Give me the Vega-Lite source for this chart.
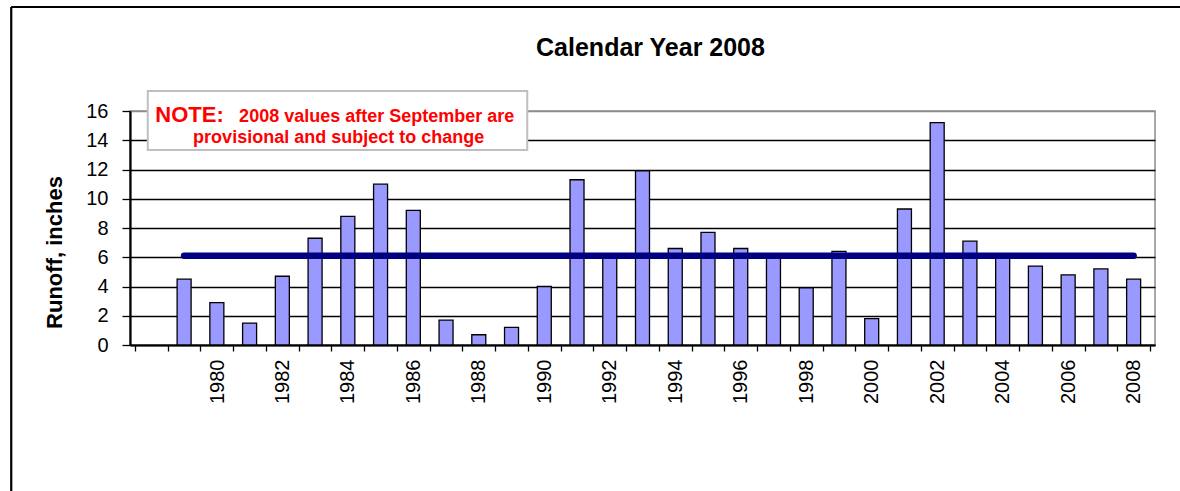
{
  "$schema": "https://vega.github.io/schema/vega-lite/v6.json",
  "width": 1025,
  "height": 234,
  "autosize": {"type": "none"},
  "padding": {"left": 130, "top": 111, "right": 25, "bottom": 146},
  "background": "white",
  "config": {
    "font": "Liberation Sans",
    "view": {"stroke": "#8c8c8c", "strokeWidth": 1.5},
    "axis": {
      "labelFont": "Liberation Sans",
      "labelFontSize": 20,
      "labelColor": "black",
      "labelOverlap": false,
      "labelFlush": false,
      "labelBound": false,
      "tickColor": "black",
      "tickWidth": 1.3,
      "domainColor": "black",
      "domainWidth": 2.2
    },
    "axisY": {
      "labelPadding": 14,
      "tickSize": 8,
      "grid": true,
      "gridColor": "black",
      "gridWidth": 1.3
    },
    "axisX": {
      "labelPadding": 8,
      "tickSize": 6,
      "grid": false
    }
  },
  "title": {
    "text": "Calendar Year 2008",
    "font": "Liberation Sans",
    "fontSize": 25,
    "fontWeight": "bold",
    "color": "black",
    "anchor": "middle",
    "dx": 8,
    "offset": -55
  },
  "data": {
    "values": [
      {"year": 1979, "runoff": 4.5},
      {"year": 1980, "runoff": 2.9},
      {"year": 1981, "runoff": 1.5},
      {"year": 1982, "runoff": 4.7},
      {"year": 1983, "runoff": 7.3},
      {"year": 1984, "runoff": 8.8},
      {"year": 1985, "runoff": 11.0},
      {"year": 1986, "runoff": 9.2},
      {"year": 1987, "runoff": 1.7},
      {"year": 1988, "runoff": 0.7},
      {"year": 1989, "runoff": 1.2},
      {"year": 1990, "runoff": 4.0},
      {"year": 1991, "runoff": 11.3},
      {"year": 1992, "runoff": 6.0},
      {"year": 1993, "runoff": 11.9},
      {"year": 1994, "runoff": 6.6},
      {"year": 1995, "runoff": 7.7},
      {"year": 1996, "runoff": 6.6},
      {"year": 1997, "runoff": 6.1},
      {"year": 1998, "runoff": 3.9},
      {"year": 1999, "runoff": 6.4},
      {"year": 2000, "runoff": 1.8},
      {"year": 2001, "runoff": 9.3},
      {"year": 2002, "runoff": 15.2},
      {"year": 2003, "runoff": 7.1},
      {"year": 2004, "runoff": 6.0},
      {"year": 2005, "runoff": 5.4},
      {"year": 2006, "runoff": 4.8},
      {"year": 2007, "runoff": 5.2},
      {"year": 2008, "runoff": 4.5}
    ]
  },
  "layer": [
    {
      "mark": {"type": "bar", "fill": "#9999FF", "stroke": "black", "strokeWidth": 1.3, "width": 14},
      "encoding": {
        "x": {
          "field": "year",
          "type": "quantitative",
          "scale": {"domain": [1977.5, 2008.5], "nice": false, "zero": false},
          "axis": {
            "title": null,
            "values": [1977.5, 1978.5, 1979.5, 1980.5, 1981.5, 1982.5, 1983.5, 1984.5, 1985.5, 1986.5, 1987.5, 1988.5, 1989.5, 1990.5, 1991.5, 1992.5, 1993.5, 1994.5, 1995.5, 1996.5, 1997.5, 1998.5, 1999.5, 2000.5, 2001.5, 2002.5, 2003.5, 2004.5, 2005.5, 2006.5, 2007.5, 2008.5],
            "tickCount": 100,
            "labelExpr": "((datum.value + 0.5) % 2 === 0 && datum.value > 1978 && datum.value < 2008) ? '' + (datum.value + 0.5) : ''",
            "labelAngle": -90,
            "labelAlign": "right",
            "labelBaseline": "middle",
            "labelOffset": 16.53
          }
        },
        "y": {
          "field": "runoff",
          "type": "quantitative",
          "scale": {"domain": [0, 16], "nice": false},
          "axis": {
            "title": "Runoff, inches",
            "titleFontSize": 22,
            "titleFontWeight": "bold",
            "titleColor": "black",
            "titleAngle": -90,
            "titleAlign": "center",
            "titleBaseline": "middle",
            "titleX": -76,
            "titleY": 141,
            "values": [0, 2, 4, 6, 8, 10, 12, 14, 16],
            "tickCount": 50,
            "format": "d",
            "gridColor": {"condition": {"test": "datum.value === 16", "value": "#8c8c8c"}, "value": "black"}
          }
        }
      }
    },
    {
      "mark": {"type": "rule", "color": "#000080", "strokeWidth": 6.5, "strokeCap": "round"},
      "encoding": {
        "x": {"aggregate": "min", "field": "year", "type": "quantitative"},
        "x2": {"aggregate": "max", "field": "year"},
        "y": {"aggregate": "mean", "field": "runoff", "type": "quantitative"}
      }
    },
    {
      "data": {"values": [{"part": "note box"}]},
      "mark": {"type": "rect", "fill": "white", "stroke": "#bfbfbf", "strokeWidth": 2},
      "encoding": {
        "x": {"datum": 1977.89, "type": "quantitative"},
        "x2": {"datum": 1989.48},
        "y": {"datum": 17.37, "type": "quantitative"},
        "y2": {"datum": 13.33}
      }
    },
    {
      "data": {"values": [{"part": "note head"}]},
      "mark": {"type": "text", "text": "NOTE:", "fontSize": 22, "fontWeight": "bold", "fill": "#FF0000", "align": "left", "baseline": "alphabetic"},
      "encoding": {
        "x": {"datum": 1978.12, "type": "quantitative"},
        "y": {"datum": 15.25, "type": "quantitative"}
      }
    },
    {
      "data": {"values": [{"part": "note line 1"}]},
      "mark": {"type": "text", "text": "2008 values after September are", "fontSize": 18, "fontWeight": "bold", "fill": "#FF0000", "align": "left", "baseline": "alphabetic"},
      "encoding": {
        "x": {"datum": 1980.68, "type": "quantitative"},
        "y": {"datum": 15.25, "type": "quantitative"}
      }
    },
    {
      "data": {"values": [{"part": "note line 2"}]},
      "mark": {"type": "text", "text": "provisional and subject to change", "fontSize": 18, "fontWeight": "bold", "fill": "#FF0000", "align": "center", "baseline": "alphabetic"},
      "encoding": {
        "x": {"datum": 1983.72, "type": "quantitative"},
        "y": {"datum": 13.81, "type": "quantitative"}
      }
    },
    {
      "data": {"values": [{"part": "frame top"}]},
      "mark": {"type": "rule", "color": "black", "strokeWidth": 2.2},
      "encoding": {
        "x": {"datum": 1973.72, "type": "quantitative"},
        "x2": {"datum": 2010.5},
        "y": {"datum": 23.11, "type": "quantitative"}
      }
    },
    {
      "data": {"values": [{"part": "frame left"}]},
      "mark": {"type": "rule", "color": "black", "strokeWidth": 2.2},
      "encoding": {
        "x": {"datum": 1973.72, "type": "quantitative"},
        "y": {"datum": 23.11, "type": "quantitative"},
        "y2": {"datum": -11}
      }
    }
  ]
}
